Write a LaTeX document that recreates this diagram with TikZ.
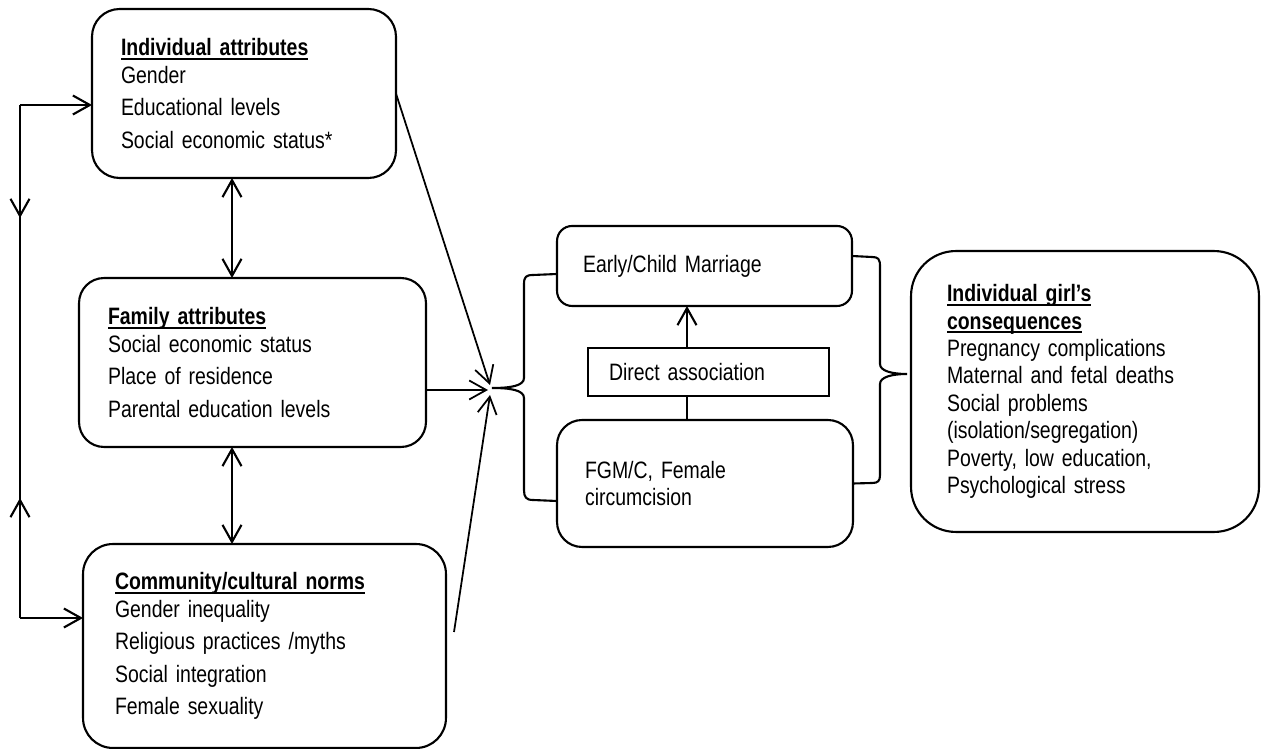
\documentclass[tikz,border=0pt]{standalone}
\usepackage{fontspec}
\setmainfont{Liberation Sans}[FakeStretch=0.82,WordSpace=0.8]
\usetikzlibrary{arrows.meta}
\newcommand{\ulhead}[1]{\leavevmode\setbox0\hbox{\bfseries #1}\rlap{\rule[-2.2pt]{\wd0}{0.9pt}}\box0}

\begin{document}
\begin{tikzpicture}[x=0.02cm,y=-0.02cm,inner sep=0pt,outer sep=0pt,very thick,
>={Straight Barb[length=3.4mm,width=3.8mm]},
textblock/.style={draw,rectangle,align=left,inner ysep=0pt,font=\fontsize{13.5}{15.6}\selectfont},
roundblock/.style={textblock,rounded corners=#1}]
\useasboundingbox (0,0) rectangle (1261,749);

% factor boxes on the left
\draw (244,93.5) node[roundblock=0.55cm,minimum height=3.38cm,text width=4.92cm,inner xsep=0.58cm] (ind) {\ulhead{Individual attributes}\\ Gender\\[2.8pt] Educational levels\\[2.8pt] Social economic status*};
\draw (252.5,362.5) node[roundblock=0.5cm,minimum height=3.38cm,text width=5.78cm,inner xsep=0.58cm] (fam) {\ulhead{Family attributes}\\ Social economic status\\[2.8pt] Place of residence\\[2.8pt] Parental education levels};
\draw (264.5,646) node[roundblock=0.6cm,minimum height=4.08cm,text width=5.98cm,inner xsep=0.64cm] (com) {\ulhead{Community/cultural norms}\\ Gender inequality\\[2.8pt] Religious practices /myths\\[2.8pt] Social integration\\[2.8pt] Female sexuality};

% middle boxes
\draw (704.5,266) node[roundblock=0.3cm,minimum height=1.6cm,text width=4.86cm,inner xsep=0.52cm] (early) {Early/Child Marriage};
\draw (708.5,372) node[textblock,minimum height=0.96cm,text width=3.98cm,inner xsep=0.42cm] (direct) {Direct association};
\draw (705,483.5) node[roundblock=0.5cm,minimum height=2.54cm,text width=4.8cm,inner xsep=0.56cm] (fgm) {FGM/C, Female\\ circumcision};

% outcome box
\draw (1085,391.5) node[roundblock=0.9cm,minimum height=5.62cm,text width=5.52cm,inner xsep=0.72cm] (cons) {\ulhead{Individual girl's}\\ \ulhead{consequences}\\ Pregnancy complications\\ Maternal and fetal deaths\\ Social problems\\ (isolation/segregation)\\ Poverty, low education,\\ Psychological stress};

% feedback loop
\coordinate (lt) at (20,105);
\coordinate (lb) at (20,618);
\draw[->] (lt) -- (lt -| ind.west);
\draw[->] (lb) -- (lb -| com.west);
\draw (lt) -- (lb);
\draw[->] (lt) -- (20,218);
\draw[->] (lb) -- (20,498);

\coordinate (vx) at (232,0);
\draw[<->] (ind.south -| vx) -- (fam.north -| vx);
\draw[<->] (fam.south -| vx) -- (com.north -| vx);

% converging arrows
\coordinate (c1) at (490,385);
\coordinate (c2) at (488,390);
\coordinate (c3) at (490,395);
\coordinate (cs) at (454,632);
\draw[line width=1pt,->] (ind.east) -- (c1);
\draw[line width=1pt,->] (fam.east |- c2) -- (c2);
\draw[line width=1pt,->] (cs) -- (c3);

% braces
\draw (early.west |- 0,274) -- (533,275) .. controls (526,275) and (524,277) .. (524,284) -- (524,378) .. controls (524,386) and (510,388) .. (492,388) .. controls (510,388) and (524,390) .. (524,398) -- (524,490) .. controls (524,497) and (526,500) .. (533,500) -- (fgm.west |- 0,501);
\draw (early.east |- 0,256) -- (872,257) .. controls (878,257) and (880,259) .. (880,266) -- (880,364) .. controls (880,371) and (892,374) .. (907,374) .. controls (892,374) and (880,377) .. (880,384) -- (880,475) .. controls (880,481) and (878,483) .. (872,483) -- (fgm.east);

\coordinate (ax) at (687,0);
\draw[->] (direct.north -| ax) -- (early.south -| ax);
\draw (fgm.north -| ax) -- (direct.south -| ax);
\end{tikzpicture}
\end{document}
